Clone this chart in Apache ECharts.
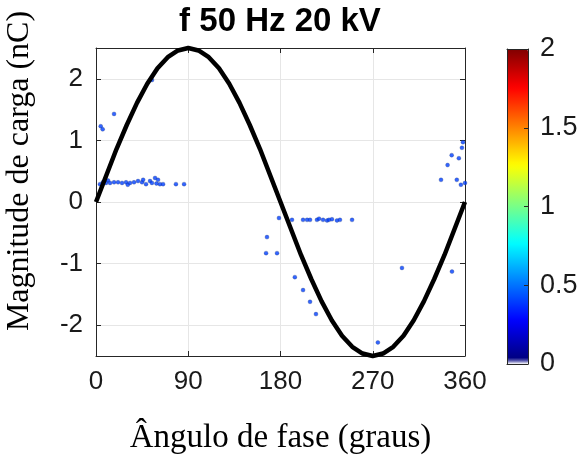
<!DOCTYPE html>
<html>
<head>
<meta charset="utf-8">
<script src="https://cdn.jsdelivr.net/npm/echarts@6/dist/echarts.min.js"></script>
<style>
html,body{margin:0;padding:0;background:#fff;}
#chart{width:588px;height:462px;}
</style>
</head>
<body>
<div id="chart"></div>
<script>
// ---- data ----
const titleText = 'f 50 Hz 20 kV';
const xTitle = 'Ângulo de fase (graus)';
const yTitle = 'Magnitude de carga (nC)';
const xTicks = [0, 90, 180, 270, 360];
const yTicks = [-2, -1, 0, 1, 2];
const cbTicks = [0, 0.5, 1, 1.5, 2];

// applied voltage reference curve (read every 10 degrees)
const curveAngles = [0,10,20,30,40,50,60,70,80,90,100,110,120,130,140,150,160,170,180,
  190,200,210,220,230,240,250,260,270,280,290,300,310,320,330,340,350,360];
const curveValues = [0,0.43,0.86,1.25,1.61,1.92,2.17,2.35,2.46,2.5,2.46,2.35,2.17,1.92,1.61,1.25,0.86,0.43,0,
  -0.43,-0.86,-1.25,-1.61,-1.92,-2.17,-2.35,-2.46,-2.5,-2.46,-2.35,-2.17,-1.92,-1.61,-1.25,-0.86,-0.43,0];

// partial discharge pulses
const pdAngles = [4.6,6.5,17.6,54.6,
  3.9,6.8,9.8,11.7,13.7,17.6,21.5,25.4,29.3,31,33.2,37.1,41,44.9,46,48.8,52.7,54.6,57.6,59,60.5,62.4,65.4,78,85.9,
  178.5,191.2,202,205.9,208.8,215.6,217.6,221.5,225.4,227.3,230.2,235.1,238,249.8,
  166.8,165.9,176.6,194,202,208.8,214.6,
  298.5,347.3,275,
  358,357,347,354,343,336.6,352,356,360];
const pdCharges = [1.23,1.18,1.43,1.98,
  0.29,0.32,0.31,0.35,0.31,0.32,0.32,0.31,0.32,0.28,0.31,0.32,0.34,0.32,0.36,0.29,0.34,0.31,0.39,0.30,0.36,0.29,0.29,0.29,0.29,
  -0.26,-0.29,-0.29,-0.29,-0.29,-0.29,-0.27,-0.29,-0.30,-0.29,-0.28,-0.30,-0.29,-0.29,
  -0.57,-0.83,-0.83,-1.22,-1.43,-1.62,-1.82,
  -1.07,-1.13,-2.28,
  0.97,0.88,0.76,0.71,0.60,0.36,0.36,0.28,0.31];
const pdIntensity = [0.4,0.4,0.4,0.4,
  0.4,0.4,0.4,0.4,0.4,0.4,0.4,0.4,0.4,0.4,0.4,0.4,0.4,0.4,0.4,0.4,0.4,0.4,0.4,0.4,0.4,0.4,0.4,0.4,0.4,
  0.4,0.4,0.4,0.4,0.4,0.4,0.4,0.4,0.4,0.4,0.4,0.4,0.4,0.4,
  0.4,0.4,0.4,0.4,0.4,0.4,0.4,
  0.4,0.4,0.4,
  0.4,0.4,0.4,0.4,0.4,0.4,0.4,0.4,0.4];

// ---- styling helpers ----
function jet(n){
  const c = v => Math.round(255*Math.max(0,Math.min(1,v)));
  const out=[];
  for(let i=0;i<n;i++){
    const t=i/(n-1);
    const r=c(1.5-Math.abs(4*t-3)), g=c(1.5-Math.abs(4*t-2)), b=c(1.5-Math.abs(4*t-1));
    out.push('rgb('+r+','+g+','+b+')');
  }
  return out;
}
const cmap = ['#ffffff'].concat(jet(63));

const GL=96, GT=48, GW=369, GH=308;
const CBL=507, CBT=49, CBW=21, CBH=315;
const axisCol='#262626';
const sans='"Liberation Sans", Arial, sans-serif';
const serif='"Liberation Serif", "Times New Roman", serif';

const curve = curveAngles.map((a,i)=>[a,curveValues[i]]);
const pts = pdAngles.map((a,i)=>[a,pdCharges[i],pdIntensity[i]]);

const chart = echarts.init(document.getElementById('chart'), null, {renderer:'canvas'});
chart.setOption({
  animation:false,
  backgroundColor:'#fff',
  title:{text:titleText,left:280,textAlign:'center',top:5,padding:0,
    textStyle:{fontFamily:sans,fontWeight:'bold',fontSize:33,color:'#000'}},
  grid:[
    {left:GL,top:GT,width:GW,height:GH,show:false,containLabel:false,outerBoundsMode:'none'},
    {left:CBL,top:CBT,width:CBW,height:CBH,show:false,containLabel:false,outerBoundsMode:'none'}
  ],
  xAxis:[
    {gridIndex:0,type:'value',min:0,max:360,interval:90,
     name:xTitle,nameLocation:'middle',nameGap:66,
     nameTextStyle:{fontFamily:serif,fontSize:33,color:'#000'},
     axisLine:{show:true,onZero:false,lineStyle:{color:axisCol,width:1}},
     axisTick:{show:true,inside:true,length:5,lineStyle:{color:axisCol}},
     axisLabel:{margin:13,fontFamily:sans,fontSize:26,color:'#1a1a1a',
       formatter:v=>xTicks.indexOf(v)>=0?String(v):''},
     splitLine:{show:true,lineStyle:{color:'#e6e6e6',width:1}}},
    {gridIndex:0,type:'value',min:0,max:360,interval:90,position:'top',
     axisLine:{show:true,onZero:false,lineStyle:{color:axisCol,width:1}},
     axisTick:{show:true,inside:true,length:5,lineStyle:{color:axisCol}},
     axisLabel:{show:false},splitLine:{show:false}},
    {gridIndex:1,type:'value',min:0,max:1,show:true,z:10,
     axisLine:{show:true,onZero:false,lineStyle:{color:axisCol}},axisTick:{show:false},axisLabel:{show:false},splitLine:{show:false}},
    {gridIndex:1,type:'value',min:0,max:1,position:'top',show:true,z:10,
     axisLine:{show:true,onZero:false,lineStyle:{color:axisCol}},axisTick:{show:false},axisLabel:{show:false},splitLine:{show:false}}
  ],
  yAxis:[
    {gridIndex:0,type:'value',min:-2.5,max:2.5,splitNumber:5,
     name:yTitle,nameLocation:'middle',nameGap:60,
     nameTextStyle:{fontFamily:serif,fontSize:32,color:'#000',padding:[0,0,0,62]},
     axisLine:{show:true,onZero:false,lineStyle:{color:axisCol,width:1}},
     axisTick:{show:true,inside:true,length:5,lineStyle:{color:axisCol}},
     axisLabel:{margin:13,fontFamily:sans,fontSize:26,color:'#1a1a1a',showMinLabel:false,showMaxLabel:false,
       formatter:v=>yTicks.indexOf(v)>=0?String(v):''},
     splitLine:{show:true,lineStyle:{color:'#e6e6e6',width:1}}},
    {gridIndex:0,type:'value',min:-2.5,max:2.5,splitNumber:5,position:'right',
     axisLine:{show:true,onZero:false,lineStyle:{color:axisCol,width:1}},
     axisTick:{show:true,inside:true,length:5,lineStyle:{color:axisCol}},
     axisLabel:{show:false},splitLine:{show:false}},
    {gridIndex:1,type:'value',min:0,max:2,interval:0.5,position:'right',z:10,
     axisLine:{show:true,onZero:false,lineStyle:{color:axisCol}},
     axisTick:{show:true,inside:true,length:4,lineStyle:{color:axisCol}},
     axisLabel:{margin:12,fontFamily:sans,fontSize:27,color:'#1a1a1a',
       formatter:v=>cbTicks.indexOf(v)>=0?String(v):''},
     splitLine:{show:false}},
    {gridIndex:1,type:'value',min:0,max:2,position:'left',z:10,
     axisLine:{show:true,onZero:false,lineStyle:{color:axisCol}},axisTick:{show:false},axisLabel:{show:false},splitLine:{show:false}}
  ],
  visualMap:{
    type:'continuous',min:0,max:2,dimension:2,seriesIndex:1,
    calculable:false,show:true,orient:'vertical',
    left:CBL,top:CBT,itemWidth:CBW,itemHeight:CBH,padding:0,
    text:['',''],showLabel:false,
    inRange:{color:cmap}
  },
  series:[
    {type:'line',xAxisIndex:0,yAxisIndex:0,data:curve,showSymbol:false,clip:false,
     lineStyle:{color:'#000',width:4.5},z:3},
    {type:'scatter',xAxisIndex:0,yAxisIndex:0,data:pts,symbolSize:4,z:2,
     itemStyle:{borderColor:'rgba(30,50,100,0.55)',borderWidth:0.6}}
  ]
});
</script>
</body>
</html>
